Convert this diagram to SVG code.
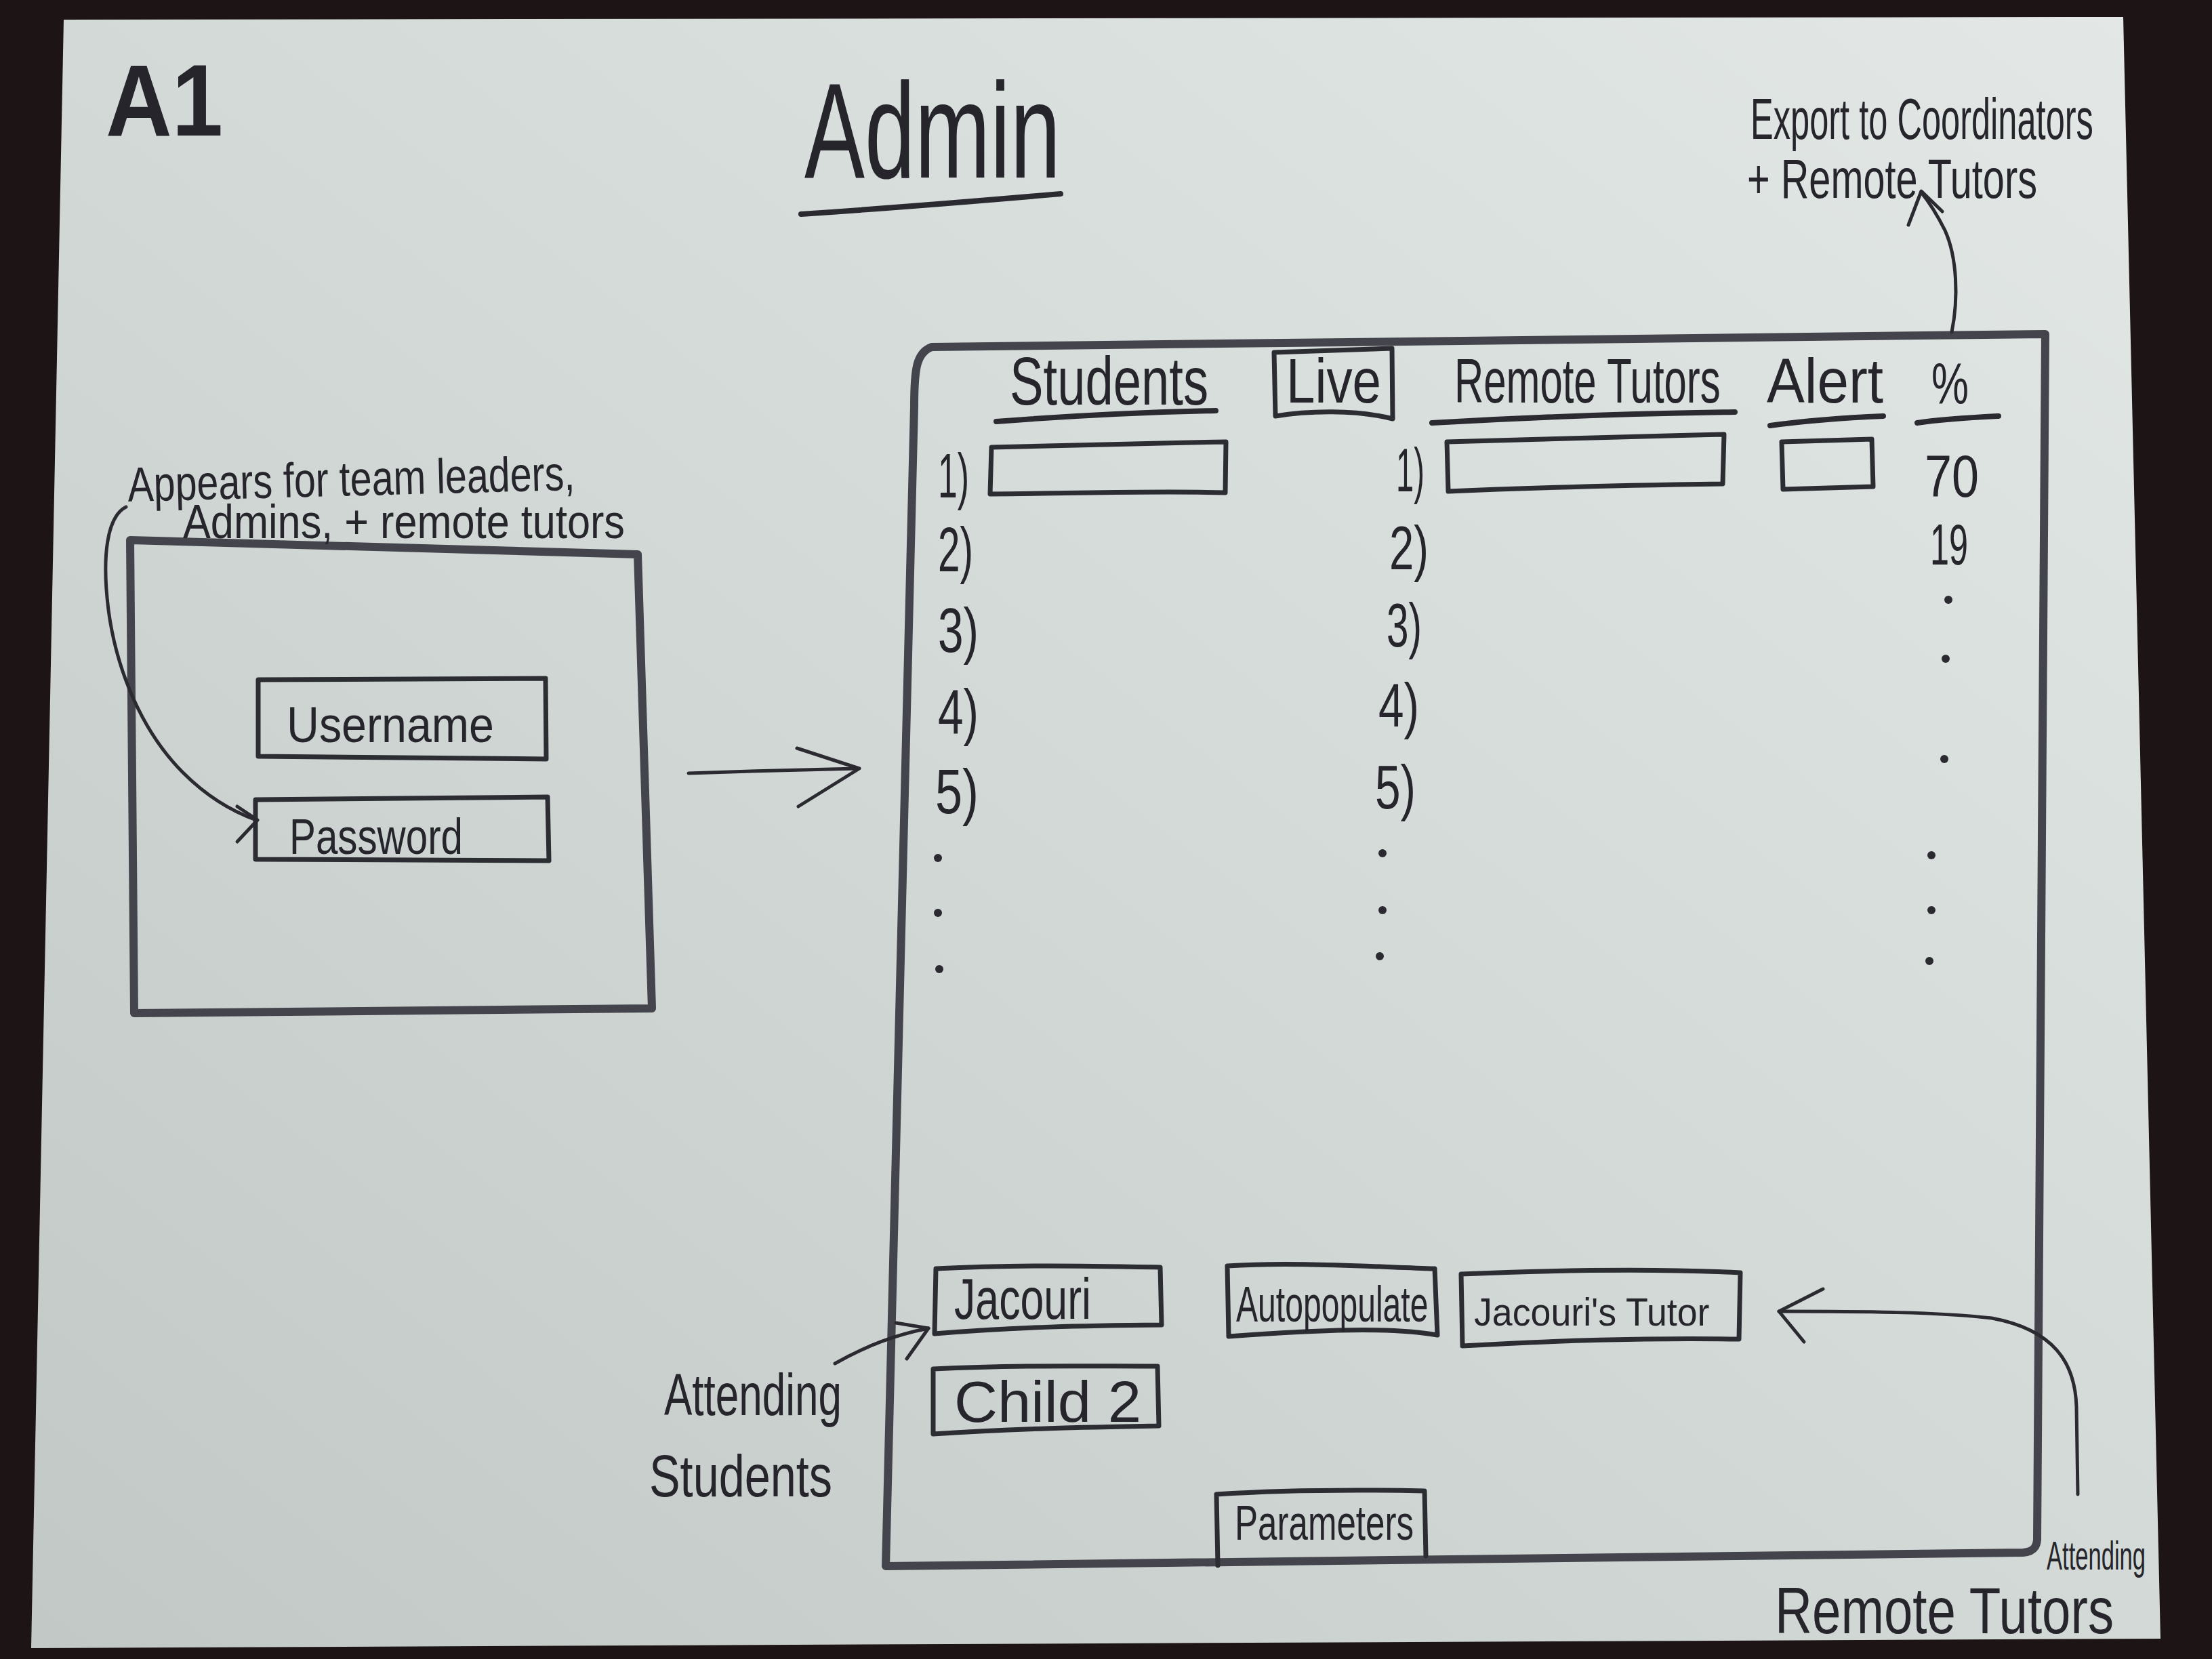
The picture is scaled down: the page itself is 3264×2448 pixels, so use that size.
<svg xmlns="http://www.w3.org/2000/svg" width="3264" height="2448" viewBox="0 0 3264 2448">
<defs>
<linearGradient id="paperGrad" x1="1" y1="0" x2="0" y2="1">
<stop offset="0" stop-color="#e3e8e6"/>
<stop offset="0.5" stop-color="#d2d9d6"/>
<stop offset="1" stop-color="#c1c8c5"/>
</linearGradient>
<style>
.ink{fill:#25252b;font-family:"Liberation Sans","DejaVu Sans",sans-serif;}
.box{fill:none;stroke:#2c2c33;stroke-width:7;stroke-linejoin:round;stroke-linecap:round;}
.frame{fill:none;stroke:#44444c;stroke-width:12;stroke-linejoin:round;stroke-linecap:round;}
.line{fill:none;stroke:#2a2a30;stroke-width:5;stroke-linecap:round;stroke-linejoin:round;}
.uline{fill:none;stroke:#2a2a30;stroke-width:8;stroke-linecap:round;}
.dot{fill:#2a2a30;}
</style>
</defs>
<rect x="0" y="0" width="3264" height="2448" fill="#1d1415"/>
<polygon points="94,29 3133,25 3188,2418 46,2432" fill="url(#paperGrad)"/>

<g id="page-label">
<text class="ink" x="156" y="200" font-size="150" font-weight="bold" textLength="173" lengthAdjust="spacingAndGlyphs">A1</text>
</g>
<g id="title">
<text class="ink" x="1187" y="262" font-size="200" textLength="378" lengthAdjust="spacingAndGlyphs">Admin</text>
<path class="uline" d="M1182,316 C1300,308 1450,296 1565,286"/>
</g>
<g id="export-note">
<text class="ink" font-size="85" transform="translate(2583,205) scale(0.595,1)">Export to Coordinators</text>
<text class="ink" x="2578" y="292" font-size="82" textLength="428" lengthAdjust="spacingAndGlyphs">+ Remote Tutors</text>
</g>

<g id="login-box">
<path class="frame" d="M192,797 L941,818 L962,1488 L198,1495 Z"/>
<g id="username">
<path class="box" d="M381,1003 L805,1001 L806,1120 L381,1116 Z"/>
<text class="ink" x="423" y="1095" font-size="75" textLength="306" lengthAdjust="spacingAndGlyphs">Username</text>
</g>
<g id="password">
<path class="box" d="M377,1180 L808,1176 L810,1270 L377,1268 Z"/>
<text class="ink" x="427" y="1260" font-size="75" textLength="256" lengthAdjust="spacingAndGlyphs">Password</text>
</g>
</g>
<g id="login-note">
<text class="ink" x="189" y="740" font-size="72" textLength="660" lengthAdjust="spacingAndGlyphs" transform="rotate(-1.5 189 740)">Appears for team leaders,</text>
<text class="ink" x="270" y="794" font-size="70" textLength="652" lengthAdjust="spacingAndGlyphs">Admins, + remote tutors</text>
</g>

<g id="main-panel">
<path class="frame" d="M1349,600 C1349,545 1352,520 1375,512 L3018,493 L3006,2272 C3005,2285 2998,2290 2985,2291 L1307,2311 Z"/>
<g id="header">
<text class="ink" x="1490" y="597" font-size="100" textLength="293" lengthAdjust="spacingAndGlyphs">Students</text>
<path class="uline" d="M1470,622 C1600,612 1700,608 1794,606"/>
<path class="box" d="M1880,520 L2054,514 L2055,618 C2000,604 1930,606 1882,614 Z"/>
<text class="ink" x="1898" y="594" font-size="92" textLength="140" lengthAdjust="spacingAndGlyphs">Live</text>
<text class="ink" font-size="92" transform="translate(2146,594) scale(0.651,1)">Remote Tutors</text>
<path class="uline" d="M2113,624 C2250,616 2420,610 2560,608"/>
<text class="ink" x="2607" y="594" font-size="92" textLength="172" lengthAdjust="spacingAndGlyphs">Alert</text>
<path class="uline" d="M2612,628 C2670,620 2730,616 2779,614"/>
<text class="ink" x="2850" y="596" font-size="85" textLength="55" lengthAdjust="spacingAndGlyphs">%</text>
<path class="uline" d="M2829,624 C2870,618 2910,616 2949,614"/>
</g>
<g id="student-list">
<text class="ink" x="1384" y="734" font-size="92" textLength="46" lengthAdjust="spacingAndGlyphs">1)</text>
<path class="box" d="M1463,660 C1600,656 1700,654 1809,652 L1808,727 C1700,724 1600,728 1461,729 Z"/>
<text class="ink" x="1384" y="843" font-size="92" textLength="52" lengthAdjust="spacingAndGlyphs">2)</text>
<text class="ink" x="1384" y="962" font-size="92" textLength="60" lengthAdjust="spacingAndGlyphs">3)</text>
<text class="ink" x="1384" y="1082" font-size="92" textLength="60" lengthAdjust="spacingAndGlyphs">4)</text>
<text class="ink" x="1380" y="1200" font-size="92" textLength="64" lengthAdjust="spacingAndGlyphs">5)</text>
<circle class="dot" cx="1384" cy="1266" r="6"/>
<circle class="dot" cx="1384" cy="1347" r="6"/>
<circle class="dot" cx="1386" cy="1430" r="6"/>
</g>
<g id="tutor-list">
<text class="ink" x="2060" y="725" font-size="90" textLength="42" lengthAdjust="spacingAndGlyphs">1)</text>
<path class="box" d="M2135,652 C2250,648 2400,644 2544,641 L2542,714 C2400,716 2250,720 2137,725 Z"/>
<text class="ink" x="2050" y="840" font-size="90" textLength="58" lengthAdjust="spacingAndGlyphs">2)</text>
<text class="ink" x="2046" y="954" font-size="90" textLength="52" lengthAdjust="spacingAndGlyphs">3)</text>
<text class="ink" x="2034" y="1072" font-size="90" textLength="60" lengthAdjust="spacingAndGlyphs">4)</text>
<text class="ink" x="2029" y="1193" font-size="90" textLength="60" lengthAdjust="spacingAndGlyphs">5)</text>
<circle class="dot" cx="2040" cy="1259" r="6"/>
<circle class="dot" cx="2040" cy="1343" r="6"/>
<circle class="dot" cx="2036" cy="1411" r="6"/>
</g>
<g id="alert-col">
<path class="box" d="M2629,652 L2762,648 L2764,718 L2631,722 Z"/>
</g>
<g id="percent-col">
<text class="ink" x="2840" y="733" font-size="88" textLength="80" lengthAdjust="spacingAndGlyphs">70</text>
<text class="ink" x="2848" y="833" font-size="85" textLength="56" lengthAdjust="spacingAndGlyphs">19</text>
<circle class="dot" cx="2875" cy="885" r="6"/>
<circle class="dot" cx="2871" cy="972" r="6"/>
<circle class="dot" cx="2869" cy="1120" r="6"/>
<circle class="dot" cx="2850" cy="1262" r="6"/>
<circle class="dot" cx="2850" cy="1343" r="6"/>
<circle class="dot" cx="2847" cy="1418" r="6"/>
</g>
<g id="btn-jacouri">
<path class="box" d="M1381,1872 C1500,1866 1600,1868 1712,1870 L1714,1955 C1600,1956 1500,1958 1379,1968 Z"/>
<text class="ink" x="1408" y="1946" font-size="85" textLength="202" lengthAdjust="spacingAndGlyphs">Jacouri</text>
</g>
<g id="btn-autopopulate">
<path class="box" d="M1811,1868 C1900,1862 2000,1868 2117,1872 L2121,1970 C2050,1958 1950,1962 1813,1972 Z"/>
<text class="ink" font-size="74" transform="translate(1824,1950) scale(0.65,1)">Autopopulate</text>
</g>
<g id="btn-jacouris-tutor">
<path class="box" d="M2156,1880 C2300,1874 2450,1872 2568,1878 L2566,1976 C2420,1974 2300,1978 2158,1986 Z"/>
<text class="ink" font-size="58" transform="translate(2175,1956) scale(0.926,1)">Jacouri's Tutor</text>
</g>
<g id="btn-child2">
<path class="box" d="M1377,2020 C1500,2014 1600,2016 1708,2016 L1710,2104 C1600,2106 1500,2108 1377,2116 Z"/>
<text class="ink" x="1408" y="2098" font-size="86" textLength="276" lengthAdjust="spacingAndGlyphs">Child 2</text>
</g>
<g id="btn-parameters">
<path class="box" d="M1795,2205 C1900,2198 2000,2198 2102,2200 L2104,2296 M1795,2205 L1797,2310"/>
<text class="ink" x="1822" y="2272" font-size="72" textLength="264" lengthAdjust="spacingAndGlyphs">Parameters</text>
</g>
</g>

<g id="students-note">
<text class="ink" x="980" y="2088" font-size="88" textLength="262" lengthAdjust="spacingAndGlyphs">Attending</text>
<text class="ink" x="958" y="2208" font-size="88" textLength="270" lengthAdjust="spacingAndGlyphs">Students</text>
</g>
<g id="tutors-note">
<text class="ink" font-size="60" transform="translate(3020,2316) scale(0.576,1)">Attending</text>
<text class="ink" x="2619" y="2410" font-size="96" textLength="500" lengthAdjust="spacingAndGlyphs">Remote Tutors</text>
</g>

<g id="connectors">
<path class="line" d="M1016,1141 C1100,1138 1180,1136 1266,1134"/>
<polyline class="line" points="1176,1104 1268,1134 1178,1190"/>
<path class="line" d="M2880,490 C2890,440 2888,380 2870,340 C2860,320 2848,300 2835,284"/>
<polyline class="line" points="2816,332 2835,282 2866,312"/>
<path class="line" d="M186,748 C158,762 150,820 160,900 C172,990 210,1080 270,1140 C310,1180 350,1200 378,1210"/>
<polyline class="line" points="350,1190 380,1210 350,1242"/>
<path class="line" d="M1232,2012 C1280,1985 1320,1970 1370,1960"/>
<polyline class="line" points="1322,1952 1370,1960 1338,2005"/>
<path class="line" d="M3066,2205 L3064,2076 C3062,2010 3030,1962 2939,1945 C2860,1936 2750,1935 2625,1935"/>
<polyline class="line" points="2690,1902 2625,1935 2662,1980"/>
</g>
</svg>
